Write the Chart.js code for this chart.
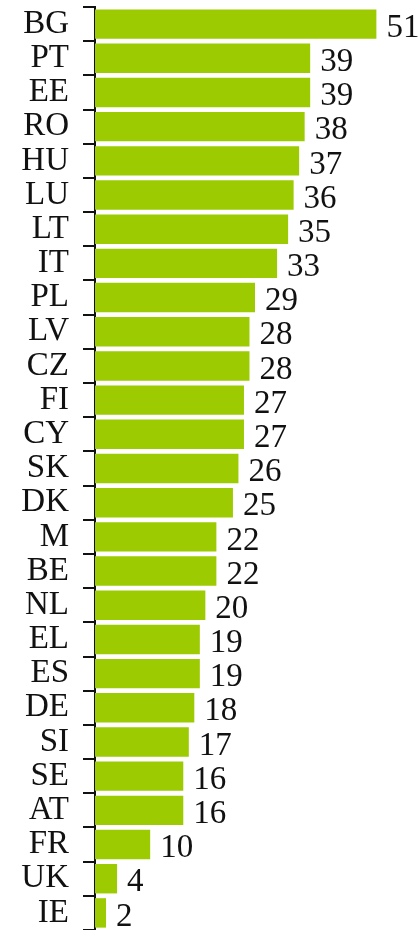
<!DOCTYPE html>
<html>
<head>
<meta charset="utf-8">
<script src="https://cdn.jsdelivr.net/npm/chart.js@4"></script>
<style>
  html, body { margin: 0; padding: 0; background: #ffffff; }
  #wrap { width: 419px; height: 930px; position: relative; }
</style>
</head>
<body>
<div id="wrap"><canvas id="chart"></canvas></div>
<script>
// Country codes, top to bottom
const countries = ['BG','PT','EE','RO','HU','LU','LT','IT','PL','LV','CZ','FI','CY','SK','DK','M','BE','NL','EL','ES','DE','SI','SE','AT','FR','UK','IE'];
// Value per country
const values = [51,39,39,38,37,36,35,33,29,28,28,27,27,26,25,22,22,20,19,19,18,17,16,16,10,4,2];

const BAR_GREEN = '#9bcb00';
const INK = '#111111';
const SERIF = '"Liberation Serif", "DejaVu Serif", serif';

// Writes each bar's value just past its end
const valueLabels = {
  id: 'valueLabels',
  afterDatasetsDraw(chart) {
    const ctx = chart.ctx;
    const meta = chart.getDatasetMeta(0);
    ctx.save();
    ctx.font = '33px ' + SERIF;
    ctx.fillStyle = INK;
    ctx.textAlign = 'left';
    ctx.textBaseline = 'middle';
    meta.data.forEach((bar, i) => {
      ctx.fillText(String(values[i]), bar.x + 10, bar.y + 4);
    });
    ctx.restore();
  }
};

new Chart(document.getElementById('chart'), {
  type: 'bar',
  data: {
    labels: countries,
    datasets: [{
      data: values,
      backgroundColor: BAR_GREEN,
      borderWidth: 0,
      barPercentage: 0.86,
      categoryPercentage: 1.0
    }]
  },
  options: {
    indexAxis: 'y',
    responsive: true,
    maintainAspectRatio: false,
    animation: false,
    layout: { padding: { top: 7, right: 4, bottom: 0, left: 0 } },
    plugins: {
      legend: { display: false },
      tooltip: { enabled: false }
    },
    scales: {
      x: {
        display: false,
        min: 0,
        max: 58
      },
      y: {
        afterFit(scale) {
          scale.width = 95;
          scale.paddingTop = 0;
          scale.paddingBottom = 0;
        },
        grid: {
          offset: true,
          drawOnChartArea: false,
          drawTicks: true,
          tickLength: 12,
          color: INK,
          lineWidth: 2
        },
        border: { display: true, color: INK, width: 2 },
        ticks: {
          autoSkip: false,
          padding: 14,
          color: INK,
          font: { family: SERIF, size: 33 }
        }
      }
    }
  },
  plugins: [valueLabels]
});
</script>
</body>
</html>
